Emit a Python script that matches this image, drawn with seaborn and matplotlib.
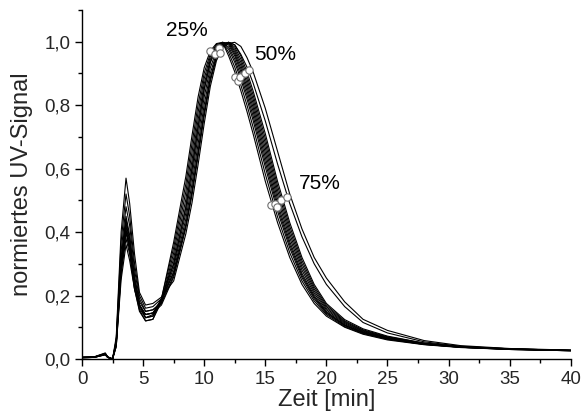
import numpy as np
import pandas as pd
import matplotlib
matplotlib.use("Agg")
import matplotlib.pyplot as plt
import seaborn as sns
from matplotlib.ticker import MultipleLocator, FuncFormatter

# ---- data ----
zeit_min = [0, 1.0, 1.9, 2.1, 2.5, 2.8, 3.2, 3.6, 3.9, 4.3, 4.7, 5.2, 5.8, 6.5, 7.5, 8.5, 9.0, 9.5,
            10.0, 10.5, 11.0, 11.5, 12.0, 12.5, 13.0, 13.5, 14.0, 15.0, 16.0, 17.0, 18.0, 19.0,
            20.0, 21.5, 23.0, 25.0, 28.0, 31.0, 35.0, 40.0]

signal_01 = [0.004, 0.005, 0.014, 0.005, 0.0, 0.05, 0.28, 0.40, 0.34, 0.22, 0.15, 0.12, 0.125, 0.19,
             0.368, 0.576, 0.704, 0.826, 0.918, 0.971, 0.994, 0.998, 0.955, 0.905, 0.845, 0.78, 0.71,
             0.56, 0.43, 0.32, 0.235, 0.175, 0.135, 0.10, 0.078, 0.06, 0.045, 0.036, 0.03, 0.026]
signal_02 = [0.005, 0.006, 0.015, 0.006, 0.0, 0.05, 0.30, 0.42, 0.36, 0.24, 0.16, 0.13, 0.135, 0.19,
             0.351, 0.552, 0.678, 0.802, 0.901, 0.962, 0.991, 0.997, 0.966, 0.92, 0.863, 0.80, 0.731,
             0.583, 0.448, 0.335, 0.246, 0.183, 0.14, 0.102, 0.08, 0.062, 0.046, 0.037, 0.03, 0.026]
signal_03 = [0.005, 0.006, 0.016, 0.006, 0.0, 0.05, 0.31, 0.44, 0.38, 0.25, 0.17, 0.13, 0.135, 0.18,
             0.334, 0.528, 0.652, 0.778, 0.884, 0.953, 0.987, 0.997, 0.976, 0.935, 0.881, 0.819, 0.752,
             0.605, 0.466, 0.35, 0.256, 0.19, 0.144, 0.105, 0.082, 0.063, 0.046, 0.037, 0.03, 0.026]
signal_04 = [0.004, 0.005, 0.013, 0.005, 0.0, 0.04, 0.27, 0.38, 0.33, 0.22, 0.155, 0.12, 0.125, 0.18,
             0.317, 0.504, 0.626, 0.754, 0.867, 0.944, 0.984, 0.997, 0.983, 0.945, 0.893, 0.832, 0.766,
             0.62, 0.478, 0.36, 0.263, 0.195, 0.147, 0.106, 0.083, 0.064, 0.047, 0.037, 0.031, 0.026]
signal_05 = [0.005, 0.006, 0.015, 0.006, 0.0, 0.05, 0.29, 0.41, 0.35, 0.24, 0.17, 0.14, 0.145, 0.19,
             0.30, 0.48, 0.60, 0.73, 0.85, 0.935, 0.98, 0.998, 0.99, 0.955, 0.905, 0.845, 0.78,
             0.635, 0.49, 0.37, 0.27, 0.20, 0.15, 0.108, 0.084, 0.065, 0.047, 0.037, 0.031, 0.027]
signal_06 = [0.005, 0.006, 0.016, 0.006, 0.0, 0.05, 0.30, 0.43, 0.37, 0.25, 0.17, 0.13, 0.14, 0.185,
             0.30, 0.48, 0.60, 0.73, 0.85, 0.935, 0.98, 0.998, 0.995, 0.962, 0.915, 0.857, 0.793,
             0.65, 0.504, 0.382, 0.28, 0.207, 0.155, 0.111, 0.086, 0.066, 0.048, 0.038, 0.031, 0.027]
signal_07 = [0.004, 0.005, 0.014, 0.005, 0.0, 0.04, 0.25, 0.36, 0.31, 0.22, 0.17, 0.14, 0.145, 0.18,
             0.288, 0.461, 0.576, 0.704, 0.826, 0.918, 0.971, 0.994, 0.998, 0.969, 0.925, 0.869, 0.806,
             0.665, 0.518, 0.394, 0.29, 0.214, 0.16, 0.114, 0.088, 0.067, 0.048, 0.038, 0.031, 0.027]
signal_08 = [0.005, 0.006, 0.016, 0.006, 0.0, 0.05, 0.32, 0.45, 0.39, 0.26, 0.18, 0.15, 0.155, 0.18,
             0.276, 0.442, 0.552, 0.678, 0.802, 0.901, 0.962, 0.991, 0.997, 0.976, 0.935, 0.881, 0.819,
             0.68, 0.532, 0.406, 0.30, 0.221, 0.165, 0.117, 0.09, 0.068, 0.049, 0.038, 0.031, 0.027]
signal_09 = [0.005, 0.006, 0.017, 0.006, 0.0, 0.06, 0.34, 0.48, 0.42, 0.28, 0.19, 0.15, 0.155, 0.175,
             0.264, 0.423, 0.528, 0.652, 0.778, 0.884, 0.953, 0.987, 0.998, 0.983, 0.945, 0.893, 0.832,
             0.695, 0.546, 0.418, 0.31, 0.228, 0.17, 0.12, 0.092, 0.07, 0.05, 0.039, 0.032, 0.027]
signal_10 = [0.004, 0.005, 0.014, 0.005, 0.0, 0.04, 0.28, 0.40, 0.35, 0.24, 0.17, 0.14, 0.145, 0.17,
             0.258, 0.414, 0.516, 0.639, 0.766, 0.876, 0.949, 0.985, 0.998, 0.99, 0.955, 0.905, 0.845,
             0.71, 0.56, 0.43, 0.32, 0.235, 0.175, 0.124, 0.095, 0.072, 0.05, 0.039, 0.032, 0.027]
signal_11 = [0.005, 0.006, 0.018, 0.006, 0.0, 0.06, 0.37, 0.52, 0.45, 0.30, 0.20, 0.16, 0.165, 0.19,
             0.27, 0.423, 0.528, 0.652, 0.778, 0.884, 0.953, 0.987, 0.998, 0.99, 0.96, 0.92, 0.87,
             0.75, 0.615, 0.49, 0.385, 0.30, 0.235, 0.165, 0.115, 0.082, 0.054, 0.04, 0.032, 0.027]
signal_12 = [0.005, 0.007, 0.019, 0.007, 0.0, 0.07, 0.40, 0.57, 0.49, 0.33, 0.21, 0.17, 0.175, 0.195,
             0.246, 0.395, 0.492, 0.613, 0.742, 0.859, 0.94, 0.982, 0.995, 0.998, 0.985, 0.95, 0.905,
             0.79, 0.655, 0.52, 0.41, 0.32, 0.255, 0.18, 0.125, 0.09, 0.058, 0.042, 0.033, 0.028]

# conversion markers (25 %, 50 %, 75 %)
marker25_t = [10.5, 10.9, 11.2, 11.3]
marker25_y = [0.970, 0.962, 0.980, 0.965]
marker50_t = [12.5, 12.75, 12.95, 13.3, 13.65]
marker50_y = [0.890, 0.875, 0.890, 0.900, 0.910]
marker75_t = [15.5, 15.8, 15.95, 16.3, 16.8]
marker75_y = [0.485, 0.490, 0.478, 0.500, 0.512]

labels_text = ["25%", "50%", "75%"]
labels_t = [8.6, 15.8, 19.5]
labels_y = [1.035, 0.96, 0.552]

# ---- build tables ----
curves = [signal_01, signal_02, signal_03, signal_04, signal_05, signal_06,
          signal_07, signal_08, signal_09, signal_10, signal_11, signal_12]
frames = []
for i, c in enumerate(curves):
    frames.append(pd.DataFrame({"Zeit": zeit_min, "Signal": c, "Lauf": i}))
df = pd.concat(frames, ignore_index=True)

mk = pd.DataFrame({"Zeit": marker25_t + marker50_t + marker75_t,
                   "Signal": marker25_y + marker50_y + marker75_y})

sns.set_style("ticks")
plt.rcParams["font.family"] = ["Liberation Sans", "DejaVu Sans"]

fig = plt.figure(figsize=(5.83, 4.15), dpi=100)
ax = fig.add_axes([0.1407, 0.135, 0.979 - 0.1407, 0.976 - 0.135])

sns.lineplot(data=df, x="Zeit", y="Signal", units="Lauf", estimator=None,
             color="black", linewidth=0.8, ax=ax, legend=False)
sns.scatterplot(data=mk, x="Zeit", y="Signal", s=28, facecolor="white",
                edgecolor="#707070", linewidth=0.8, ax=ax, zorder=5, legend=False)

for txt, tx, ty in zip(labels_text, labels_t, labels_y):
    ax.text(tx, ty, txt, ha="center", va="center", fontsize=15, color="black")

ax.set_xlim(0, 40)
ax.set_ylim(0, 1.1)
ax.xaxis.set_major_locator(MultipleLocator(5))
ax.xaxis.set_minor_locator(MultipleLocator(2.5))
ax.yaxis.set_major_locator(MultipleLocator(0.2))
ax.yaxis.set_minor_locator(MultipleLocator(0.1))
ax.yaxis.set_major_formatter(FuncFormatter(lambda v, p: f"{v:.1f}".replace(".", ",")))
ax.xaxis.set_major_formatter(FuncFormatter(lambda v, p: f"{v:.0f}"))

ax.tick_params(which="major", direction="out", length=5, width=1, labelsize=13.5, color="black")
ax.tick_params(which="minor", direction="out", length=3, width=1, color="black")
for s in ["top", "right"]:
    ax.spines[s].set_visible(False)
for s in ["left", "bottom"]:
    ax.spines[s].set_color("black")
    ax.spines[s].set_linewidth(1)

ax.set_xlabel("Zeit [min]", fontsize=17, labelpad=1)
ax.set_ylabel("normiertes UV-Signal", fontsize=17, labelpad=8)

fig.savefig("out.png", dpi=100)
